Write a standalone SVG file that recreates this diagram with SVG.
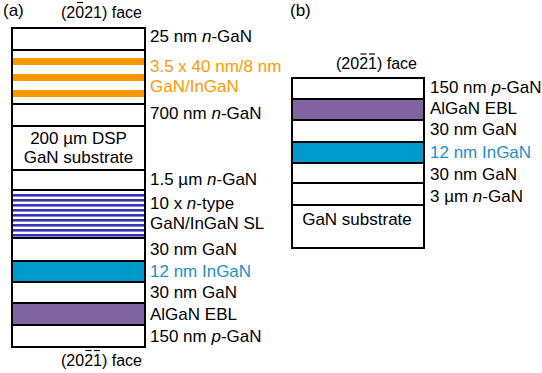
<svg xmlns="http://www.w3.org/2000/svg" width="542" height="373" viewBox="0 0 542 373">
<style>
text{font-family:"Liberation Sans",Arial,sans-serif;font-size:17px;fill:#000}
.face{font-size:16px}
.lay{stroke:#000;stroke-width:2;fill:#fff}
.pur{fill:#8064A2}
.blu{fill:#0099CC}
.org{fill:#FF9900}
.sl{fill:#3333BB}
.bar{stroke:#000;stroke-width:1.2}
.ot{fill:#FF9900}
.bt{fill:#1E8FC6}
</style>
<rect width="542" height="373" fill="#fff"/>
<text x="3" y="16">(a)</text>
<text x="290" y="16">(b)</text>

<g id="stackA">
<g id="a-top-face"><text class="face" x="61" y="17.5">(2021) face</text><line class="bar" x1="77" y1="2.5" x2="83" y2="2.5"/></g>
<g id="a-25nm"><rect class="lay" x="12" y="28" width="133" height="22"/><text x="150" y="42">25 nm <tspan font-style="italic">n</tspan>-GaN</text></g>
<g id="a-mqw">
<rect x="12" y="50" width="133" height="54" fill="#fff"/>
<rect class="org" x="12" y="58" width="133" height="7"/>
<rect class="org" x="12" y="74" width="133" height="7"/>
<rect class="org" x="12" y="90" width="133" height="7"/>
<rect x="12" y="50" width="133" height="54" fill="none" stroke="#000" stroke-width="2"/>
<text class="ot" x="150" y="72">3.5 x 40 nm/8 nm</text><text class="ot" x="150" y="92">GaN/InGaN</text></g>
<g id="a-700nm"><rect class="lay" x="12" y="104" width="133" height="22"/><text x="150" y="119">700 nm <tspan font-style="italic">n</tspan>-GaN</text></g>
<g id="a-sub"><rect class="lay" x="12" y="126" width="133" height="44"/><text x="78.5" y="144" text-anchor="middle">200 µm DSP</text><text x="78.5" y="163" text-anchor="middle">GaN substrate</text></g>
<g id="a-15um"><rect class="lay" x="12" y="170" width="133" height="20"/><text x="150" y="185">1.5 µm <tspan font-style="italic">n</tspan>-GaN</text></g>
<g id="a-sl">
<rect x="12" y="190" width="133" height="48" fill="#fff"/>
<rect class="sl" x="12" y="194" width="133" height="2.6"/>
<rect class="sl" x="12" y="199" width="133" height="2.6"/>
<rect class="sl" x="12" y="204" width="133" height="2.6"/>
<rect class="sl" x="12" y="209" width="133" height="2.6"/>
<rect class="sl" x="12" y="214" width="133" height="2.6"/>
<rect class="sl" x="12" y="219" width="133" height="2.6"/>
<rect class="sl" x="12" y="224" width="133" height="2.6"/>
<rect class="sl" x="12" y="229" width="133" height="2.6"/>
<rect class="sl" x="12" y="234" width="133" height="2.6"/>
<rect x="12" y="190" width="133" height="48" fill="none" stroke="#000" stroke-width="2"/>
<text x="150" y="209">10 x <tspan font-style="italic">n</tspan>-type</text><text x="150" y="229">GaN/InGaN SL</text></g>
<g id="a-30nm-1"><rect class="lay" x="12" y="238" width="133" height="23"/><text x="150" y="255">30 nm GaN</text></g>
<g id="a-ingan"><rect class="lay blu" x="12" y="261" width="133" height="21"/><text class="bt" x="150" y="277">12 nm InGaN</text></g>
<g id="a-30nm-2"><rect class="lay" x="12" y="282" width="133" height="21"/><text x="150" y="298">30 nm GaN</text></g>
<g id="a-ebl"><rect class="lay pur" x="12" y="303" width="133" height="22"/><text x="150" y="320">AlGaN EBL</text></g>
<g id="a-pgan"><rect class="lay" x="12" y="325" width="133" height="22"/><text x="150" y="342">150 nm <tspan font-style="italic">p</tspan>-GaN</text></g>
<g id="a-bottom-face"><text class="face" x="61" y="366">(2021) face</text><line class="bar" x1="85.5" y1="350.5" x2="91.5" y2="350.5"/><line class="bar" x1="94" y1="350.5" x2="100" y2="350.5"/></g>
</g>

<g id="stackB">
<g id="b-face"><text class="face" x="336" y="69">(2021) face</text><line class="bar" x1="360.5" y1="54" x2="366.5" y2="54"/><line class="bar" x1="369" y1="54" x2="375" y2="54"/></g>
<g id="b-pgan"><rect class="lay" x="292" y="78" width="132" height="21"/><text x="430" y="93">150 nm <tspan font-style="italic">p</tspan>-GaN</text></g>
<g id="b-ebl"><rect class="lay pur" x="292" y="99" width="132" height="21"/><text x="430" y="114">AlGaN EBL</text></g>
<g id="b-30nm-1"><rect class="lay" x="292" y="120" width="132" height="22"/><text x="430" y="135">30 nm GaN</text></g>
<g id="b-ingan"><rect class="lay blu" x="292" y="142" width="132" height="21"/><text class="bt" x="430" y="158">12 nm InGaN</text></g>
<g id="b-30nm-2"><rect class="lay" x="292" y="163" width="132" height="20"/><text x="430" y="180">30 nm GaN</text></g>
<g id="b-3um"><rect class="lay" x="292" y="183" width="132" height="22"/><text x="430" y="201.5">3 µm <tspan font-style="italic">n</tspan>-GaN</text></g>
<g id="b-sub"><rect class="lay" x="292" y="205" width="132" height="43"/><text x="357" y="225" text-anchor="middle">GaN substrate</text></g>
</g>
<g id="connectors"/>
</svg>
